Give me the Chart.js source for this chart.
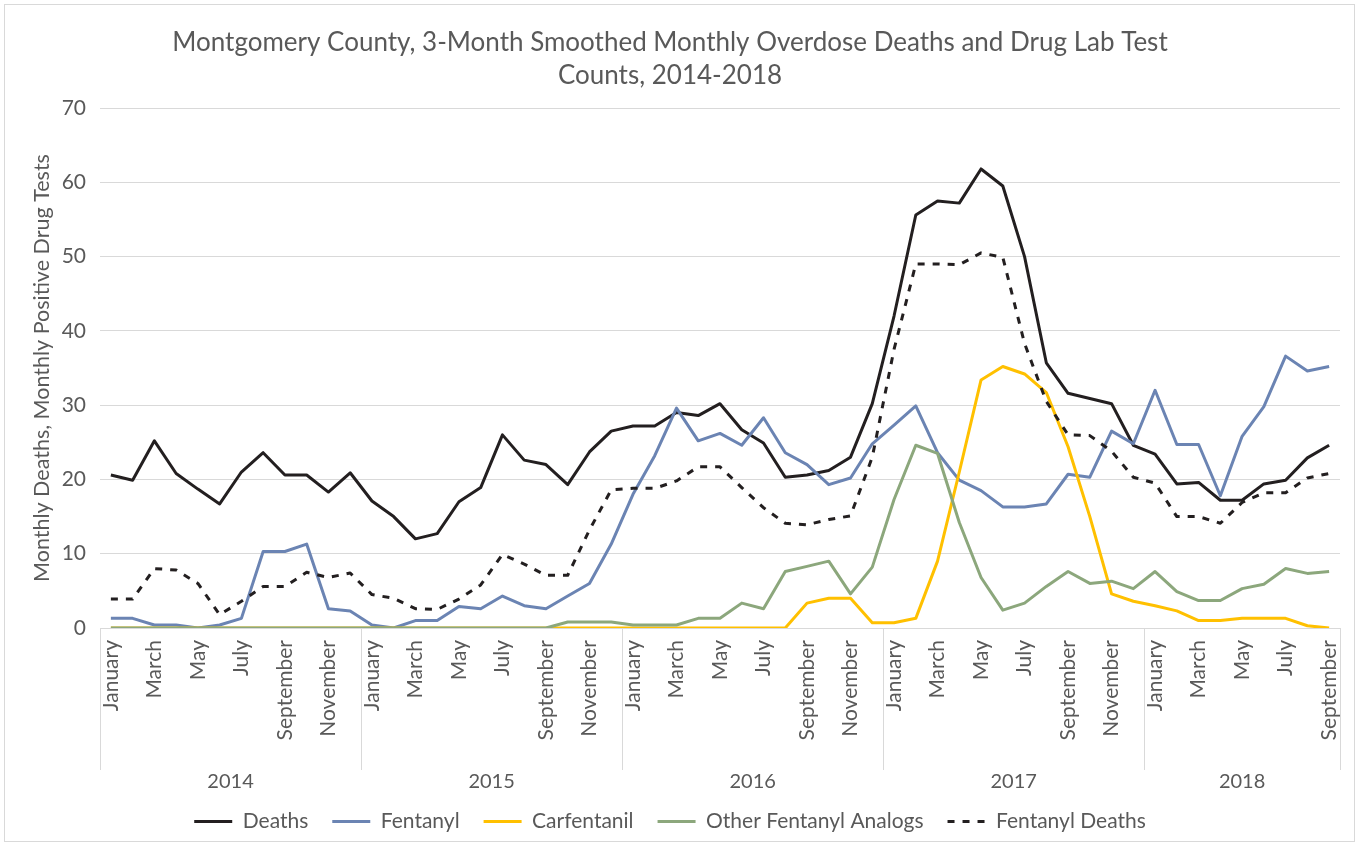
<!DOCTYPE html>
<html><head><meta charset="utf-8">
<script src="https://cdn.jsdelivr.net/npm/chart.js@4.4.1/dist/chart.umd.min.js"></script>
<style>html,body{margin:0;padding:0;background:#fff;}canvas{display:block;}</style>
</head><body>
<canvas id="c" width="1359" height="847"></canvas>
<script>
const years = ['2014', '2015', '2016', '2017', '2018'];
const monthNames = ['January','February','March','April','May','June','July','August','September','October','November','December'];
const monthsPerYear = [12, 12, 12, 12, 9];

const deaths = [
  20.6, 19.9, 25.2, 20.8, 18.7, 16.7, 21.0, 23.6, 20.6, 20.6, 18.3, 20.9,
  17.1, 15.0, 12.0, 12.7, 17.0, 18.9, 26.0, 22.6, 22.0, 19.3, 23.7, 26.5,
  27.2, 27.2, 29.0, 28.6, 30.2, 26.7, 24.9, 20.3, 20.6, 21.2, 23.0, 30.2,
  42.0, 55.6, 57.5, 57.2, 61.8, 59.5, 50.0, 35.7, 31.6, 30.9, 30.2, 24.6,
  23.4, 19.4, 19.6, 17.2, 17.2, 19.4, 19.9, 22.9, 24.6
];
const fentanyl = [
  1.3, 1.3, 0.4, 0.4, 0.0, 0.4, 1.3, 10.3, 10.3, 11.3, 2.6, 2.3,
  0.4, 0.0, 1.0, 1.0, 2.9, 2.6, 4.3, 3.0, 2.6, 4.3, 6.0, 11.3,
  18.0, 23.2, 29.6, 25.2, 26.2, 24.6, 28.3, 23.6, 22.0, 19.3, 20.2, 24.8,
  27.3, 29.9, 23.6, 19.9, 18.5, 16.3, 16.3, 16.7, 20.7, 20.3, 26.5, 24.8,
  32.0, 24.7, 24.7, 17.8, 25.8, 29.8, 36.6, 34.6, 35.2
];
const carfentanil = [
  0, 0, 0, 0, 0, 0, 0, 0, 0, 0, 0, 0,
  0, 0, 0, 0, 0, 0, 0, 0, 0, 0, 0, 0,
  0, 0, 0, 0, 0, 0, 0, 0, 3.35, 4.0, 4.0, 0.7,
  0.7, 1.3, 9.0, 21.0, 33.4, 35.2, 34.2, 31.7, 24.4, 15.0, 4.6, 3.6,
  3.0, 2.3, 1.0, 1.0, 1.3, 1.3, 1.3, 0.3, 0.0
];
const otherAnalogs = [
  0, 0, 0, 0, 0, 0, 0, 0, 0, 0, 0, 0,
  0, 0, 0, 0, 0, 0, 0, 0, 0, 0.8, 0.8, 0.8,
  0.4, 0.4, 0.4, 1.3, 1.3, 3.35, 2.6, 7.6, 8.3, 9.0, 4.6, 8.2,
  17.3, 24.6, 23.5, 14.2, 6.8, 2.4, 3.35, 5.6, 7.6, 6.0, 6.3, 5.3,
  7.6, 4.9, 3.7, 3.7, 5.3, 5.9, 8.0, 7.35, 7.6
];
const fentanylDeaths = [
  3.9, 3.9, 8.0, 7.8, 6.0, 1.8, 3.6, 5.6, 5.6, 7.5, 6.8, 7.4,
  4.5, 4.0, 2.6, 2.5, 3.9, 5.8, 9.9, 8.6, 7.1, 7.1, 13.2, 18.6,
  18.8, 18.8, 19.8, 21.7, 21.7, 18.9, 16.2, 14.1, 13.9, 14.6, 15.1, 23.0,
  37.5, 49.0, 49.0, 48.9, 50.5, 49.9, 38.3, 30.5, 26.0, 25.9, 23.8, 20.3,
  19.5, 15.0, 15.0, 14.1, 16.9, 18.2, 18.2, 20.2, 20.8
];
const yTicks = [0, 10, 20, 30, 40, 50, 60, 70];

const categories = [];
years.forEach((y, yi) => {
  for (let m = 0; m < monthsPerYear[yi]; m++) categories.push(monthNames[m]);
});

const FONT = 'Lato, "Open Sans", sans-serif';
const TXT = '#595959';
const GRID = '#d9d9d9';

const yearAxisPlugin = {
  id: 'yearAxis',
  afterDraw(chart) {
    const {ctx, chartArea, scales: {x}} = chart;
    const top = chartArea.bottom;
    const bottom = chartArea.bottom + 142;
    ctx.save();
    ctx.strokeStyle = GRID;
    ctx.lineWidth = 1;
    let start = 0;
    const edges = [x.getPixelForValue(-0.5)];
    years.forEach((y, i) => {
      start += monthsPerYear[i];
      edges.push(x.getPixelForValue(start - 0.5));
    });
    edges.forEach(px => {
      const xx = Math.round(px) + 0.5;
      ctx.beginPath(); ctx.moveTo(xx, top); ctx.lineTo(xx, bottom); ctx.stroke();
    });
    ctx.fillStyle = TXT;
    ctx.font = '20px ' + FONT;
    ctx.textAlign = 'center';
    ctx.textBaseline = 'middle';
    years.forEach((y, i) => {
      ctx.fillText(y, (edges[i] + edges[i + 1]) / 2, chartArea.bottom + 154);
    });
    ctx.strokeRect(4.5, 4.5, 1350, 837);
    ctx.restore();
  }
};

const mk = (label, data, color, order, dash) => ({
  label, data, borderColor: color, backgroundColor: color, borderWidth: 3,
  pointRadius: 0, tension: 0, fill: false, order, borderDash: dash || [],
  borderJoinStyle: 'round'
});

new Chart(document.getElementById('c'), {
  type: 'line',
  data: {
    labels: categories,
    datasets: [
      mk('Deaths', deaths, '#231f20', 5),
      mk('Fentanyl', fentanyl, '#6b84b3', 4),
      mk('Carfentanil', carfentanil, '#ffc000', 3),
      mk('Other Fentanyl Analogs', otherAnalogs, '#8ca77c', 2),
      mk('Fentanyl Deaths', fentanylDeaths, '#231f20', 1, [7, 8])
    ]
  },
  options: {
    responsive: false,
    animation: false,
    layout: {padding: {left: 0, right: 19, top: 0, bottom: 5}},
    plugins: {
      title: {
        display: true,
        text: ['Montgomery County, 3-Month Smoothed Monthly Overdose Deaths and Drug Lab Test', 'Counts, 2014-2018'],
        color: TXT,
        font: {family: FONT, size: 26, weight: 'normal', lineHeight: 1.27},
        padding: {top: 26, bottom: 16}
      },
      legend: {
        position: 'bottom',
        labels: {
          color: TXT,
          font: {family: FONT, size: 21},
          usePointStyle: true,
          pointStyle: 'line',
          pointStyleWidth: 38,
          padding: 24,
          generateLabels: chart => chart.data.datasets.map((ds, i) => ({
            text: ds.label,
            fillStyle: ds.borderColor,
            strokeStyle: ds.borderColor,
            lineWidth: 3,
            lineDash: ds.borderDash,
            lineCap: 'butt',
            pointStyle: 'line',
            fontColor: TXT,
            hidden: false,
            datasetIndex: i
          }))
        }
      },
      tooltip: {enabled: false}
    },
    scales: {
      x: {
        type: 'category',
        offset: true,
        grid: {display: false},
        border: {display: true, color: GRID},
        ticks: {
          color: TXT,
          font: {family: FONT, size: 21},
          autoSkip: false,
          maxRotation: 90,
          minRotation: 90,
          padding: 4,
          callback: (v, i) => (i % 2 === 0 ? categories[i] : '')
        },
        afterFit: s => { s.height = 159; }
      },
      y: {
        min: 0, max: 70,
        afterBuildTicks: s => { s.ticks = yTicks.map(v => ({value: v})); },
        grid: {color: GRID, drawTicks: false, lineWidth: 1},
        border: {display: false},
        ticks: {color: TXT, font: {family: FONT, size: 21}, padding: 14},
        title: {
          display: true,
          text: 'Monthly Deaths, Monthly Positive Drug Tests',
          color: TXT,
          font: {family: FONT, size: 21.5},
          padding: {top: 29, bottom: 0}
        },
        afterFit: s => { s.width = 100; }
      }
    }
  },
  plugins: [yearAxisPlugin]
});
</script>
</body></html>
